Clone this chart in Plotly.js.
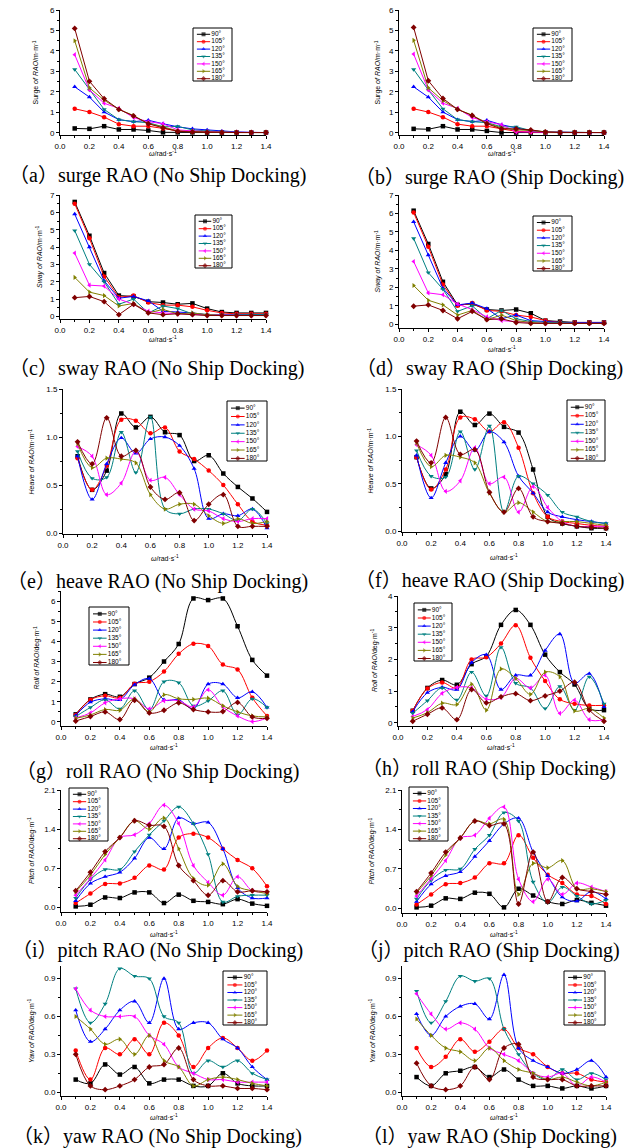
<!DOCTYPE html>
<html><head><meta charset="utf-8">
<script src="https://cdn.plot.ly/plotly-3.0.1.min.js"></script>
<style>html,body{margin:0;padding:0;background:#fff}#chart{width:635px;height:1148px}</style>
</head><body><div id="chart"></div>
<script>
// ---------------- DATA ----------------
const omega = [0.1,0.2,0.3,0.4,0.5,0.6,0.7,0.8,0.9,1.0,1.1,1.2,1.3,1.4];
const headings = ['90°','105°','120°','135°','150°','165°','180°'];

// (a) surge, no ship docking  (rows: 90,105,120,135,150,165,180)
const surgeNoDock = [
 [0.22,0.20,0.33,0.17,0.17,0.12,0.03,0.03,0.03,0.02,0.02,0.02,0.02,0.02],
 [1.18,1.02,0.77,0.43,0.33,0.33,0.22,0.10,0.08,0.05,0.03,0.02,0.02,0.02],
 [2.25,1.75,1.02,0.65,0.55,0.62,0.45,0.30,0.20,0.15,0.08,0.05,0.03,0.02],
 [3.10,2.10,1.15,0.65,0.55,0.50,0.30,0.32,0.15,0.10,0.05,0.03,0.02,0.02],
 [3.82,2.10,1.45,1.20,0.75,0.55,0.45,0.15,0.10,0.06,0.04,0.03,0.02,0.02],
 [4.50,2.20,1.60,1.15,0.85,0.45,0.30,0.10,0.06,0.04,0.03,0.02,0.02,0.02],
 [5.10,2.52,1.67,1.15,0.83,0.45,0.25,0.08,0.05,0.03,0.02,0.02,0.02,0.02]
];
// (b) surge, ship docking
const surgeDock = [
 [0.20,0.18,0.33,0.17,0.17,0.10,0.02,0.02,0.02,0.02,0.02,0.02,0.02,0.02],
 [1.18,1.02,0.77,0.43,0.33,0.33,0.20,0.08,0.05,0.03,0.02,0.02,0.02,0.02],
 [2.25,1.75,1.02,0.65,0.55,0.62,0.40,0.25,0.10,0.05,0.03,0.02,0.02,0.02],
 [3.10,2.10,1.18,0.65,0.55,0.50,0.30,0.30,0.12,0.05,0.03,0.02,0.02,0.02],
 [3.85,2.10,1.45,1.20,0.75,0.55,0.40,0.05,0.05,0.03,0.02,0.02,0.02,0.02],
 [4.52,2.20,1.58,1.15,0.87,0.48,0.25,0.15,0.12,0.05,0.03,0.02,0.02,0.02],
 [5.15,2.55,1.68,1.15,0.85,0.45,0.20,0.20,0.15,0.05,0.02,0.02,0.02,0.02]
];
// (c) sway, no ship docking
const swayNoDock = [
 [6.60,4.65,2.50,1.20,1.15,0.85,0.80,0.70,0.75,0.45,0.25,0.20,0.20,0.20],
 [6.50,4.50,2.30,1.10,1.20,0.80,0.65,0.65,0.55,0.35,0.20,0.15,0.15,0.15],
 [5.90,4.00,2.05,1.05,1.15,0.90,0.30,0.25,0.20,0.10,0.10,0.10,0.10,0.10],
 [4.95,3.00,2.00,0.70,1.00,0.20,0.60,0.45,0.15,0.10,0.10,0.10,0.10,0.10],
 [3.65,1.80,1.75,1.00,0.70,0.30,0.20,0.15,0.10,0.08,0.08,0.05,0.05,0.05],
 [2.25,1.40,1.20,0.60,0.75,0.20,0.40,0.15,0.20,0.10,0.05,0.05,0.05,0.05],
 [1.08,1.15,0.85,0.10,0.70,0.20,0.10,0.15,0.10,0.05,0.05,0.05,0.05,0.05]
];
// (d) sway, ship docking
const swayDock = [
 [6.15,4.35,2.30,1.05,1.10,0.80,0.75,0.80,0.60,0.20,0.15,0.10,0.10,0.10],
 [6.05,4.20,2.15,1.00,1.15,0.75,0.70,0.50,0.40,0.20,0.10,0.10,0.10,0.10],
 [5.55,3.75,1.95,1.05,1.15,0.85,0.30,0.50,0.20,0.15,0.10,0.10,0.10,0.10],
 [4.65,2.80,1.90,0.70,1.00,0.30,0.75,0.30,0.15,0.10,0.10,0.05,0.05,0.05],
 [3.40,1.70,1.60,1.10,0.80,0.40,0.20,0.15,0.10,0.05,0.05,0.05,0.05,0.05],
 [2.10,1.30,1.05,0.50,0.75,0.25,0.50,0.20,0.10,0.05,0.05,0.05,0.05,0.05],
 [0.98,1.05,0.75,0.30,0.70,0.25,0.30,0.10,0.05,0.05,0.05,0.05,0.05,0.05]
];
// (e) heave, no ship docking
const heaveNoDock = [
 [0.80,0.45,0.65,1.245,1.10,1.21,1.05,1.02,0.75,0.81,0.62,0.48,0.36,0.22],
 [0.78,0.45,0.70,1.18,1.17,1.04,1.10,0.85,0.77,0.65,0.50,0.30,0.12,0.08],
 [0.80,0.35,0.72,0.99,0.83,0.98,1.00,0.91,0.67,0.15,0.20,0.18,0.25,0.05],
 [0.85,0.57,0.58,1.05,0.63,1.21,0.25,0.20,0.25,0.25,0.20,0.13,0.25,0.10],
 [0.90,0.80,0.40,0.52,0.85,0.55,0.58,0.40,0.25,0.23,0.15,0.12,0.15,0.15],
 [0.93,0.68,0.78,0.77,0.73,0.40,0.25,0.30,0.30,0.18,0.10,0.15,0.10,0.12],
 [0.95,0.72,1.20,0.80,0.86,0.48,0.35,0.42,0.13,0.30,0.40,0.07,0.07,0.07]
];
// (f) heave, ship docking
const heaveDock = [
 [0.78,0.45,0.60,1.26,1.12,1.24,1.10,1.04,0.65,0.15,0.08,0.05,0.03,0.03],
 [0.78,0.44,0.65,1.20,1.18,1.05,1.15,0.88,0.40,0.15,0.10,0.08,0.06,0.05],
 [0.80,0.35,0.72,1.00,0.85,1.05,0.94,0.58,0.40,0.20,0.15,0.12,0.10,0.08],
 [0.85,0.58,0.57,1.05,0.65,1.11,0.20,0.58,0.50,0.38,0.20,0.15,0.10,0.08],
 [0.91,0.80,0.42,0.53,0.88,0.50,0.57,0.20,0.47,0.25,0.10,0.05,0.05,0.05],
 [0.93,0.68,0.80,0.78,0.72,0.40,0.20,0.30,0.20,0.10,0.10,0.10,0.08,0.06],
 [0.95,0.72,1.20,0.81,0.86,0.41,0.20,0.45,0.15,0.10,0.08,0.05,0.04,0.03]
];
// (g) roll, no ship docking
const rollNoDock = [
 [0.38,1.12,1.38,1.25,1.88,2.20,3.00,3.87,6.13,6.05,6.13,4.75,3.08,2.30],
 [0.35,1.10,1.30,1.20,1.90,2.00,2.50,3.38,3.88,3.77,2.85,2.60,1.20,0.30],
 [0.32,0.98,1.15,1.10,1.85,2.15,1.10,1.10,0.65,1.88,1.88,1.20,1.50,0.72],
 [0.27,0.72,1.10,0.65,1.55,0.60,2.00,1.95,0.80,1.05,1.55,0.35,1.15,0.72],
 [0.20,0.45,0.95,1.15,1.15,0.65,1.05,1.05,0.75,1.60,0.75,0.30,0.02,0.20],
 [0.18,0.35,0.62,0.58,1.15,0.50,1.35,1.15,1.12,1.18,0.80,0.50,0.30,0.25],
 [0.05,0.27,0.50,0.12,1.08,0.45,0.58,0.95,0.62,0.50,0.52,0.97,0.25,0.18]
];
// (h) roll, ship docking
const rollDock = [
 [0.38,1.10,1.35,1.20,1.85,2.10,3.09,3.56,3.09,2.15,1.60,1.21,0.45,0.40],
 [0.38,1.08,1.27,1.10,2.00,2.07,2.50,3.08,2.05,1.32,0.74,0.60,0.55,0.55],
 [0.35,0.95,1.12,1.05,1.90,2.15,1.05,1.50,1.50,2.28,2.80,1.25,1.55,0.50],
 [0.30,0.70,1.10,0.72,1.60,0.85,2.38,1.25,1.10,0.45,1.15,0.40,1.45,0.60],
 [0.20,0.42,0.93,1.12,1.10,0.75,0.80,1.40,1.10,1.50,0.30,0.72,0.10,0.10],
 [0.15,0.32,0.62,0.58,1.22,0.40,1.70,1.40,0.90,1.60,1.45,0.38,0.45,0.15],
 [0.05,0.27,0.47,0.10,1.05,0.63,0.82,0.92,0.70,0.85,1.00,1.28,0.40,0.05]
];
// (i) pitch, no ship docking
const pitchNoDock = [
 [0.02,0.05,0.18,0.17,0.27,0.27,0.08,0.23,0.12,0.10,0.06,0.15,0.07,0.03],
 [0.08,0.25,0.42,0.43,0.53,0.75,0.68,1.25,1.32,1.25,1.05,0.85,0.70,0.38],
 [0.12,0.43,0.55,0.63,0.88,1.25,1.05,1.60,1.50,1.52,1.05,0.35,0.17,0.17],
 [0.17,0.50,0.68,0.68,1.00,1.30,1.55,1.80,1.50,0.95,0.10,0.20,0.22,0.22],
 [0.22,0.52,0.85,1.25,1.30,1.50,1.83,1.50,0.75,0.45,0.22,0.55,0.30,0.28],
 [0.28,0.58,0.95,1.25,1.55,1.40,1.60,1.05,0.52,0.40,0.78,0.38,0.30,0.25],
 [0.30,0.63,1.00,1.25,1.55,1.47,1.45,0.75,0.48,0.22,0.48,0.28,0.30,0.28]
];
// (j) pitch, ship docking
const pitchDock = [
 [0.02,0.05,0.18,0.17,0.28,0.26,0.02,0.35,0.23,0.12,0.08,0.15,0.10,0.05],
 [0.07,0.25,0.43,0.45,0.55,0.80,0.80,1.30,0.90,0.60,0.45,0.25,0.22,0.08],
 [0.12,0.43,0.58,0.65,0.92,1.20,1.50,1.60,1.00,0.58,0.20,0.13,0.30,0.17],
 [0.17,0.50,0.68,0.70,1.05,1.30,1.70,1.55,0.47,0.10,0.38,0.22,0.08,0.15],
 [0.22,0.53,0.85,1.25,1.30,1.60,1.80,0.52,0.12,0.52,0.25,0.45,0.38,0.30],
 [0.28,0.58,0.95,1.25,1.55,1.50,1.58,0.25,0.80,0.72,0.85,0.35,0.35,0.30],
 [0.30,0.63,1.00,1.25,1.55,1.47,1.50,0.08,1.00,0.12,0.55,0.35,0.30,0.25]
];
// (k) yaw, no ship docking
const yawNoDock = [
 [0.10,0.07,0.22,0.14,0.20,0.07,0.10,0.10,0.05,0.05,0.15,0.07,0.05,0.05],
 [0.33,0.10,0.35,0.30,0.42,0.30,0.55,0.45,0.20,0.35,0.43,0.35,0.25,0.33],
 [0.65,0.40,0.50,0.65,0.72,0.55,0.90,0.50,0.55,0.55,0.42,0.35,0.20,0.10],
 [0.82,0.55,0.70,0.98,0.92,0.90,0.60,0.55,0.15,0.25,0.20,0.25,0.15,0.10],
 [0.82,0.65,0.60,0.60,0.60,0.45,0.38,0.20,0.15,0.10,0.10,0.08,0.08,0.08],
 [0.60,0.50,0.38,0.42,0.30,0.45,0.25,0.20,0.05,0.10,0.12,0.10,0.07,0.05],
 [0.30,0.05,0.02,0.05,0.10,0.20,0.22,0.35,0.10,0.05,0.05,0.03,0.03,0.02]
];
// (l) yaw, ship docking
const yawDock = [
 [0.12,0.05,0.15,0.17,0.20,0.12,0.18,0.10,0.05,0.05,0.03,0.05,0.03,0.05],
 [0.35,0.20,0.28,0.42,0.32,0.40,0.50,0.35,0.30,0.20,0.15,0.15,0.10,0.08],
 [0.62,0.45,0.60,0.68,0.70,0.58,0.93,0.35,0.25,0.20,0.15,0.18,0.25,0.12],
 [0.80,0.55,0.72,0.92,0.88,0.90,0.50,0.30,0.15,0.10,0.18,0.10,0.15,0.10],
 [0.78,0.62,0.50,0.55,0.50,0.35,0.30,0.25,0.15,0.12,0.15,0.05,0.12,0.08],
 [0.58,0.45,0.35,0.32,0.25,0.35,0.25,0.18,0.15,0.10,0.12,0.08,0.05,0.08],
 [0.23,0.05,0.02,0.05,0.20,0.10,0.35,0.38,0.12,0.10,0.10,0.05,0.05,0.05]
];

const captions = [
 '（a）surge RAO (No Ship Docking)','（b）surge RAO (Ship Docking)',
 '（c）sway RAO (No Ship Docking)','（d）sway RAO (Ship Docking)',
 '（e）heave RAO (No Ship Docking)','（f）heave RAO (Ship Docking)',
 '（g）roll RAO (No Ship Docking)','（h）roll RAO (Ship Docking)',
 '（i）pitch RAO (No Ship Docking)','（j）pitch RAO (Ship Docking)',
 '（k）yaw RAO (No Ship Docking)','（l）yaw RAO (Ship Docking)'
];
const yTitles = [
 'Surge <i>of RAO</i>/m·m<sup>-1</sup>','Surge <i>of RAO</i>/m·m<sup>-1</sup>',
 '<i>Sway of RAO</i>/m·m<sup>-1</sup>','<i>Sway of RAO</i>/m·m<sup>-1</sup>',
 '<i>Heave of RAO</i>/m·m<sup>-1</sup>','<i>Heave of RAO</i>/m·m<sup>-1</sup>',
 '<i>Roll of RAO</i>/deg·m<sup>-1</sup>','<i>Roll of RAO</i>/deg·m<sup>-1</sup>',
 '<i>Pitch of RAO</i>/deg·m<sup>-1</sup>','<i>Pitch of RAO</i>/deg·m<sup>-1</sup>',
 '<i>Yaw of RAO</i>/deg·m<sup>-1</sup>','<i>Yaw of RAO</i>/deg·m<sup>-1</sup>'
];
const xTitle = '<i>ω</i>/rad·s<sup>-1</sup>';

// ---------------- STYLE / GEOMETRY ----------------
const colors = ['#000000','#FF0000','#0000FF','#008080','#FF00FF','#808000','#800000'];
const symbols = ['square','circle','triangle-up','triangle-down','triangle-left','triangle-right','diamond'];
const W = 635, H = 1148;

const panels = [
 {d:surgeNoDock, sm:false, x0:60, x1:266, yt:10, yb:135, yr:[-0.1,6], dt:1, fmt:'d', lg:[193,28,232,81], yo:24, xt:153, cy:176},
 {d:surgeDock,   sm:false, x0:399,x1:604, yt:10, yb:135, yr:[-0.1,6], dt:1, fmt:'d', lg:[533,28,572,81], yo:21, xt:153, cy:178},
 {d:swayNoDock,  sm:false, x0:60, x1:266, yt:195,yb:319, yr:[-0.15,7],dt:1, fmt:'d', lg:[195,215,232,268], yo:21, xt:339, cy:368},
 {d:swayDock,    sm:false, x0:399,x1:604, yt:195,yb:328, yr:[-0.2,7], dt:1, fmt:'d', lg:[533,216,572,271], yo:21, xt:349, cy:369},
 {d:heaveNoDock, sm:true,  x0:63, x1:267, yt:389,yb:534, yr:[-0.01,1.5],dt:0.5, fmt:'.1f', lg:[227,401,267,461], yo:32, xt:558, cy:581},
 {d:heaveDock,   sm:true,  x0:402,x1:606, yt:389,yb:532, yr:[-0.01,1.5],dt:0.5, fmt:'.1f', lg:[567,400,605,461], yo:32, xt:557, cy:580},
 {d:rollNoDock,  sm:true,  x0:61, x1:267, yt:591,yb:726, yr:[-0.2,6.5],dt:1, fmt:'d', lg:[89,607,129,665], yo:24, xt:747, cy:771},
 {d:rollDock,    sm:true,  x0:398,x1:604, yt:596,yb:726, yr:[-0.1,4],  dt:1, fmt:'d', lg:[414,603,452,661], yo:24, xt:747, cy:768},
 {d:pitchNoDock, sm:true,  x0:61, x1:267, yt:790,yb:912, yr:[-0.08,2.1],dt:0.7, fmt:'.1f', lg:[69,788,108,841], yo:30, xt:934, cy:950},
 {d:pitchDock,   sm:true,  x0:402,x1:606, yt:790,yb:913, yr:[-0.08,2.1],dt:0.7, fmt:'.1f', lg:[409,787,448,841], yo:30, xt:934, cy:950},
 {d:yawNoDock,   sm:true,  x0:61, x1:267, yt:966,yb:1096,yr:[-0.03,1.0],dt:0.3, fmt:'.1f', lg:[223,971,267,1025], yo:30, xt:1117, cy:1136},
 {d:yawDock,     sm:true,  x0:402,x1:606, yt:966,yb:1096,yr:[-0.03,1.0],dt:0.3, fmt:'.1f', lg:[564,971,605,1025], yo:30, xt:1117, cy:1136}
];

const px = v => v / W, py = v => 1 - v / H;
const traces = [];
const layout = {
  width: W, height: H, margin: {l:0, r:0, t:0, b:0},
  paper_bgcolor: '#fff', plot_bgcolor: 'rgba(0,0,0,0)', showlegend: false,
  font: {family: 'Liberation Sans, Arial, sans-serif', color: '#000'},
  annotations: [], shapes: []
};
const tickFont = {family: 'Liberation Sans, Arial, sans-serif', size: 8, color: '#000'};

panels.forEach((p, i) => {
  const n = i + 1, ln = i + 13;
  const xa = 'xaxis' + (n === 1 ? '' : n), ya = 'yaxis' + (n === 1 ? '' : n);
  const xr = 'x' + (n === 1 ? '' : n), yr = 'y' + (n === 1 ? '' : n);
  layout[xa] = {
    domain: [px(p.x0), px(p.x1)], range: [0, 1.4], anchor: yr,
    dtick: 0.2, tick0: 0, tickformat: '.1f', ticks: 'outside', ticklen: 3, tickwidth: 1, tickcolor: '#000',
    showline: true, linecolor: '#000', linewidth: 1, showgrid: false, zeroline: false,
    tickfont: tickFont, fixedrange: true,
    minor: {ticks: 'outside', ticklen: 2, dtick: 0.1, tick0: 0, tickcolor: '#000', showgrid: false}
  };
  layout[ya] = {
    domain: [py(p.yb), py(p.yt)], range: p.yr, anchor: xr,
    dtick: p.dt, tick0: 0, tickformat: p.fmt, ticks: 'outside', ticklen: 3, tickwidth: 1, tickcolor: '#000',
    showline: true, linecolor: '#000', linewidth: 1, showgrid: false, zeroline: false,
    tickfont: tickFont, fixedrange: true,
    minor: {ticks: 'outside', ticklen: 2, dtick: p.dt / 2, tick0: 0, tickcolor: '#000', showgrid: false}
  };
  p.d.forEach((vals, k) => {
    traces.push({
      type: 'scatter', mode: 'lines+markers', x: omega, y: vals, xaxis: xr, yaxis: yr,
      name: headings[k], cliponaxis: false,
      line: {color: colors[k], width: 1, shape: p.sm ? 'spline' : 'linear', smoothing: 1},
      marker: {symbol: symbols[k], color: colors[k], size: 4.5, line: {width: 0}}
    });
  });
  const lxa = 'xaxis' + ln, lya = 'yaxis' + ln, lxr = 'x' + ln, lyr = 'y' + ln;
  const [l, t, r, b] = p.lg;
  layout[lxa] = {domain: [px(l), px(r)], range: [0, 1], visible: false, fixedrange: true, anchor: lyr};
  layout[lya] = {domain: [py(b), py(t)], range: [6.31, -0.85], visible: false, fixedrange: true, anchor: lxr};
  layout.shapes.push({type: 'rect', xref: 'paper', yref: 'paper', x0: px(l), x1: px(r), y0: py(b), y1: py(t),
    line: {color: '#000', width: 1}, fillcolor: 'rgba(255,255,255,0)'});
  headings.forEach((h, k) => {
    traces.push({
      type: 'scatter', mode: 'lines+markers', x: [0.1, 0.27, 0.44], y: [k, k, k], xaxis: lxr, yaxis: lyr,
      hoverinfo: 'skip', cliponaxis: false,
      line: {color: colors[k], width: 1},
      marker: {symbol: symbols[k], color: colors[k], size: [0, 4, 0], line: {width: 0}}
    });
  });
  traces.push({
    type: 'scatter', mode: 'text', x: headings.map(() => 0.47), y: headings.map((h, k) => k),
    text: headings, textposition: 'middle right', xaxis: lxr, yaxis: lyr, hoverinfo: 'skip', cliponaxis: false,
    textfont: {family: 'Liberation Sans, Arial, sans-serif', size: 6.5, color: '#000'}
  });
  layout.annotations.push({
    xref: 'paper', yref: 'paper', x: px(p.x0 - p.yo), y: py((p.yt + p.yb) / 2), text: yTitles[i],
    textangle: -90, showarrow: false, xanchor: 'center', yanchor: 'middle',
    font: {family: 'Liberation Sans, Arial, sans-serif', size: 7, color: '#000'}
  });
  layout.annotations.push({
    xref: 'paper', yref: 'paper', x: px((p.x0 + p.x1) / 2), y: py(p.xt), text: xTitle,
    showarrow: false, xanchor: 'center', yanchor: 'middle',
    font: {family: 'Liberation Sans, Arial, sans-serif', size: 7, color: '#000'}
  });
  layout.annotations.push({
    xref: 'paper', yref: 'paper', x: px(i % 2 === 0 ? 157 : 489), y: py(p.cy), text: captions[i],
    showarrow: false, xanchor: 'center', yanchor: 'middle',
    font: {family: 'Liberation Serif, Times New Roman, Noto Sans CJK SC, serif', size: 20, color: '#000'}
  });
});

Plotly.newPlot('chart', traces, layout, {staticPlot: true, displayModeBar: false});
</script>
</body></html>
